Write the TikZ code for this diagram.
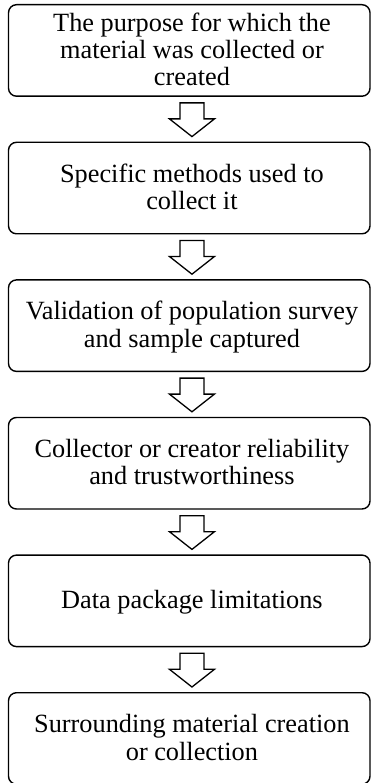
\documentclass[tikz,border=0pt]{standalone}
\usepackage{fontspec}
\setmainfont{Liberation Serif}
\usetikzlibrary{calc}
\newcommand{\ls}{\rule[-5.3pt]{0pt}{26.3pt}}
\tikzset{
  stepbox/.style={draw=black, line width=1.4pt, rounded corners=8pt, rectangle,
    minimum width=361.5pt, minimum height=91.5pt, inner sep=0pt},
  txt/.style={align=center, inner sep=0pt, font=\fontsize{26.3pt}{26.5pt}\selectfont},
  blockarrow/.style={draw=black, line width=1.3pt, fill=white, line join=miter}
}
\begin{document}
\begin{tikzpicture}[x=1pt,y=-1pt]
\useasboundingbox (0,0) rectangle (372,783);
\foreach \i in {0,...,5} {
  \node[stepbox] (b\i) at (189.25, 50.45+137.6*\i) {};
}
\node[txt] (t0) at ($(b0.center)+(2.7,0)$) {\ls The purpose for which the\\ \ls material was collected or\\ \ls created};
\node[txt] (t1) at ($(b1.center)+(2.7,0)$) {\ls Specific methods used to\\ \ls collect it};
\node[txt] (t2) at ($(b2.center)+(2.7,0)$) {\ls Validation of population survey\\ \ls and sample captured};
\node[txt] (t3) at ($(b3.center)+(2.7,0)$) {\ls Collector or creator reliability\\ \ls and trustworthiness};
\node[txt] (t4) at ($(b4.center)+(2.7,0)$) {\ls Data package limitations};
\node[txt] (t5) at ($(b5.center)+(2.7,0)$) {\ls Surrounding material creation\\ \ls or collection};
\foreach \i [evaluate=\i as \j using int(\i+1)] in {0,...,4} {
  \draw[blockarrow]
    ($(b\i.south)+(2.7-12,6)$) -- ($(b\i.south)+(2.7+12,6)$)
    -- ($(b\i.south)+(2.7+12,22)$) -- ($(b\i.south)+(2.7+22.5,22)$)
    -- ($(b\j.north)+(2.7,-5)$)
    -- ($(b\i.south)+(2.7-22.5,22)$) -- ($(b\i.south)+(2.7-12,22)$) -- cycle;
}
\end{tikzpicture}
\end{document}
